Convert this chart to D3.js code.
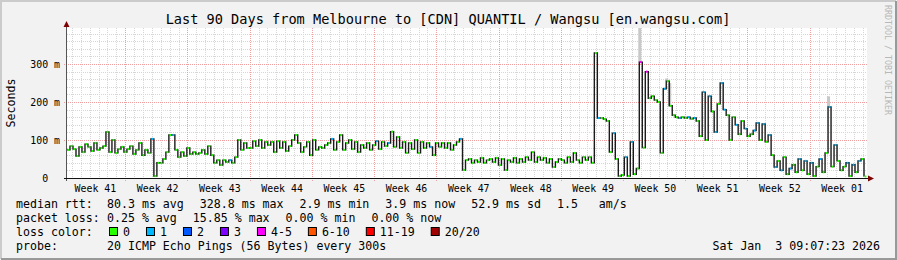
<!DOCTYPE html>
<html>
<head>
<meta charset="utf-8">
<script src="https://cdn.jsdelivr.net/npm/d3@7"></script>
<style>
body { margin: 0; background: #f2f2f2; }
text { font-family: "DejaVu Sans Mono", monospace; white-space: pre; fill: #000; }
</style>
</head>
<body>
<div id="chart"></div>
<script>
// median rtt in ms, one value per ~8h
var rtt = [
  74, 84, 76, 58, 82, 68, 89, 82, 71, 92, 74, 79, 84, 121, 68, 100, 66, 76, 82, 68,
  76, 84, 63, 74, 92, 60, 74, 66, 103, 5, 40, 40, 50, 68, 113, 113, 74, 55, 68, 58,
  79, 63, 68, 63, 66, 74, 63, 84, 60, 40, 47, 34, 47, 42, 47, 40, 55, 100, 74, 92,
  79, 79, 97, 84, 100, 79, 95, 87, 95, 68, 97, 79, 95, 71, 84, 100, 113, 92, 68, 82,
  95, 60, 100, 74, 82, 79, 87, 92, 103, 74, 95, 113, 74, 92, 100, 76, 95, 68, 87, 79,
  92, 74, 87, 97, 76, 95, 84, 92, 122, 82, 108, 79, 95, 66, 92, 76, 100, 66, 95, 79,
  92, 82, 60, 92, 82, 92, 79, 92, 74, 87, 95, 103, 21, 47, 50, 40, 47, 42, 53, 40,
  47, 50, 42, 53, 34, 50, 21, 47, 42, 53, 40, 50, 42, 55, 47, 68, 42, 55, 47, 53,
  40, 50, 29, 42, 50, 47, 40, 55, 42, 66, 47, 40, 55, 47, 55, 40, 329, 158, 158, 155,
  150, 68, 118, 50, 5, 8, 55, 5, 95, 10, 25, 305, 80, 280, 210, 215, 205, 200, 66, 235,
  255, 190, 165, 160, 158, 160, 158, 160, 156, 158, 150, 110, 226, 100, 215, 175, 121, 195, 250, 180,
  165, 100, 160, 140, 115, 150, 130, 110, 115, 125, 145, 100, 142, 95, 113, 60, 29, 45, 20, 55,
  10, 25, 35, 15, 50, 20, 45, 10, 40, 5, 30, 50, 15, 66, 187, 30, 87, 45, 20, 30,
  40, 5, 35, 15, 45, 50, 4
];

// samples that lost pings (index into rtt, lost pings out of 20)
var lossIdx = [28, 35, 54, 88, 103, 107, 121, 131, 177, 182, 186, 188, 191, 193, 199, 204, 207, 209, 212, 214,
  216, 218, 219, 223, 226, 229, 230, 232, 234, 236, 238, 241, 244, 246, 248, 251, 254, 256, 260, 262, 264];
var lossCnt = [1, 1, 1, 1, 1, 1, 1, 1, 1, 1, 1, 1, 4, 4, 1, 1, 1, 1, 1, 1,
  1, 1, 1, 1, 1, 1, 1, 1, 1, 1, 1, 1, 1, 1, 1, 1, 1, 1, 1, 1, 1];

// smoke (spread of the pings) where it shows
var smokeIdx = [191, 200, 201, 254];
var smokeTop = [420, 262, 250, 215];

var lossLabels = ["0", "1", "2", "3", "4-5", "6-10", "11-19", "20/20"];
var lossColors = ["#26ff00", "#00b8ff", "#0059ff", "#7e00ff", "#ff00ff", "#ff5500", "#ff0000", "#a00000"];
var lossBins = [0, 1, 2, 3, 5, 10, 19, 20];

var yTicks = [0, 100, 200, 300];
var statsRtt = ["80.3 ms avg", "328.8 ms max", "2.9 ms min", "3.9 ms now", "52.9 ms sd", "1.5   am/s"];
var statsLoss = ["0.25 % avg", "15.85 % max", "0.00 % min", "0.00 % now"];

var titleText = "Last 90 Days from Melbourne to [CDN] QUANTIL / Wangsu [en.wangsu.com]";
var probeText = "20 ICMP Echo Pings (56 Bytes) every 300s";
var dateText = "Sat Jan  3 09:07:23 2026";

var endTime = new Date(Date.UTC(2026, 0, 3, 10, 40, 0));
var startTime = d3.utcDay.offset(endTime, -90);

var W = 897, H = 260;
var pL = 67, pR = 867, pT = 28, pB = 178;

var svg = d3.select("#chart").append("svg").attr("width", W).attr("height", H);

// frame
svg.append("rect").attr("width", W).attr("height", H).attr("fill", "#f2f2f2");
svg.append("path").attr("d", "M1," + (H - 1) + "V1H" + (W - 1)).attr("stroke", "#cbcbcb").attr("stroke-width", 2).attr("fill", "none");
svg.append("path").attr("d", "M1," + (H - 1) + "H" + (W - 1) + "V1").attr("stroke", "#999").attr("stroke-width", 2).attr("fill", "none");

var x = d3.scaleUtc().domain([startTime, endTime]).range([pL, pR]);
var y = d3.scaleLinear().domain([0, (pB - pT) / 0.38]).range([pB, pT]);

svg.append("rect").attr("x", pL).attr("y", pT).attr("width", pR - pL).attr("height", pB - pT).attr("fill", "#fff");

svg.append("clipPath").attr("id", "plotclip").append("rect")
  .attr("x", pL).attr("y", pT).attr("width", pR - pL).attr("height", pB - pT);

// grid
var days = d3.utcDay.range(startTime, endTime);
var sundays = d3.utcSunday.range(startTime, endTime);
var minorY = d3.range(20, y.domain()[1], 20).filter(function(v) { return v % 100 != 0; });

var grid = svg.append("g");
grid.selectAll(".dayline").data(days).enter().append("line")
  .attr("x1", function(d) { return Math.round(x(d)) + 0.5; })
  .attr("x2", function(d) { return Math.round(x(d)) + 0.5; })
  .attr("y1", pT).attr("y2", pB)
  .attr("stroke", "#d6d6d6").attr("stroke-dasharray", "1,1");
grid.selectAll(".minory").data(minorY).enter().append("line")
  .attr("x1", pL).attr("x2", pR)
  .attr("y1", function(d) { return Math.round(y(d)) + 0.5; })
  .attr("y2", function(d) { return Math.round(y(d)) + 0.5; })
  .attr("stroke", "#d6d6d6").attr("stroke-dasharray", "1,1");
grid.selectAll(".weekline").data(sundays).enter().append("line")
  .attr("x1", function(d) { return Math.round(x(d)) + 0.5; })
  .attr("x2", function(d) { return Math.round(x(d)) + 0.5; })
  .attr("y1", pT).attr("y2", pB + 3)
  .attr("stroke", "#eea0a0").attr("stroke-dasharray", "1,1");
grid.selectAll(".majory").data(yTicks.slice(1)).enter().append("line")
  .attr("x1", pL - 3).attr("x2", pR)
  .attr("y1", function(d) { return Math.round(y(d)) + 0.5; })
  .attr("y2", function(d) { return Math.round(y(d)) + 0.5; })
  .attr("stroke", "#eea0a0").attr("stroke-dasharray", "1,1");

// data
var span = endTime - startTime;
var stepMs = span / rtt.length;
var pts = rtt.map(function(v, i) {
  return { t: new Date(+startTime + i * stepMs), v: v, loss: 0 };
});
lossIdx.forEach(function(k, j) { pts[k].loss = lossCnt[j]; });

function lossColor(n) {
  for (var b = 0; b < lossBins.length; b++) if (n <= lossBins[b]) return lossColors[b];
  return lossColors[lossColors.length - 1];
}

var plot = svg.append("g").attr("clip-path", "url(#plotclip)");

plot.selectAll(".smoke").data(smokeIdx).enter().append("rect")
  .attr("x", function(k) { return x(pts[k].t) - 1; })
  .attr("width", 3)
  .attr("y", function(k, j) { return y(smokeTop[j]); })
  .attr("height", function(k, j) { return y(pts[k].v) - y(smokeTop[j]); })
  .attr("fill", "#c8c8c8");

var line = d3.line().curve(d3.curveStepAfter)
  .x(function(d) { return x(d.t); })
  .y(function(d) { return y(d.v); });
plot.append("path").datum(pts).attr("d", line)
  .attr("fill", "none").attr("stroke", "#1b1b1b").attr("stroke-width", 1.4);

// median segments coloured by loss
plot.selectAll(".med").data(pts).enter().append("rect")
  .attr("x", function(d) { return x(d.t) + 0.6; })
  .attr("y", function(d) { return y(d.v) - 1; })
  .attr("width", function(d) { return x(new Date(+d.t + stepMs)) - x(d.t) - 1.2; })
  .attr("height", 2)
  .attr("fill", function(d) { return lossColor(d.loss); });

// axes
svg.append("line").attr("x1", pL - 0.5).attr("x2", pL - 0.5).attr("y1", pB + 3).attr("y2", pT - 1)
  .attr("stroke", "#555");
svg.append("line").attr("x1", pL - 3).attr("x2", pR + 1).attr("y1", pB + 0.5).attr("y2", pB + 0.5)
  .attr("stroke", "#111");
svg.append("path").attr("d", "M" + (pL - 3.5) + "," + (pT - 1) + "L" + (pL - 0.5) + "," + (pT - 7) + "L" + (pL + 2.5) + "," + (pT - 1) + "Z")
  .attr("fill", "#7f0000");
svg.append("path").attr("d", "M" + (pR + 1) + "," + (pB - 2.5) + "L" + (pR + 7) + "," + (pB + 0.5) + "L" + (pR + 1) + "," + (pB + 3.5) + "Z")
  .attr("fill", "#7f0000");

var yAxis = svg.append("g").attr("transform", "translate(" + pL + ",0)")
  .call(d3.axisLeft(y).tickValues(yTicks).tickSize(0).tickPadding(7)
    .tickFormat(function(d) { return d == 0 ? "0  " : d + " m"; }));
yAxis.select(".domain").remove();
yAxis.selectAll("text").attr("font-family", "DejaVu Sans Mono").attr("font-size", "9.9px").attr("dy", "0.35em");

var weekMid = sundays.slice();
weekMid.unshift(d3.utcSunday.floor(startTime));
weekMid = weekMid.map(function(d) { return d3.utcHour.offset(d, 86); })
  .filter(function(d) { return x(d) > pL && x(d) < pR; });
var xAxis = svg.append("g").attr("transform", "translate(0," + pB + ")")
  .call(d3.axisBottom(x).tickValues(weekMid).tickSize(0).tickPadding(6.5)
    .tickFormat(function(d) { return "Week " + d3.utcFormat("%V")(d); }));
xAxis.select(".domain").remove();
xAxis.selectAll("text").attr("font-family", "DejaVu Sans Mono").attr("font-size", "9.9px");

// titles
svg.append("text").attr("x", 448).attr("y", 24).attr("text-anchor", "middle")
  .style("font-size", "13.6px").text(titleText);
svg.append("text").attr("transform", "translate(15,103) rotate(-90)").attr("text-anchor", "middle")
  .style("font-size", "11.6px").text("Seconds");
svg.append("text").attr("transform", "translate(885,5) rotate(90)")
  .style("font-size", "8.3px").style("fill", "#b8b8b8").text("RRDTOOL / TOBI OETIKER");

// legend
var rowY = [208, 222, 236, 250];
function legendRow(label, items, ry) {
  svg.append("text").attr("x", 16).attr("y", ry).style("font-size", "11.6px").text(label);
  var cx = 107;
  items.forEach(function(s) {
    var t = svg.append("text").attr("x", cx).attr("y", ry).style("font-size", "11.6px").text(s);
    cx += t.node().getComputedTextLength() + 16;
  });
}
legendRow("median rtt:", statsRtt, rowY[0]);
legendRow("packet loss:", statsLoss, rowY[1]);

svg.append("text").attr("x", 16).attr("y", rowY[2]).style("font-size", "11.6px").text("loss color:");
var bx = 109;
lossLabels.forEach(function(s, j) {
  svg.append("rect").attr("x", bx + 0.5).attr("y", rowY[2] - 8.5).attr("width", 8).attr("height", 8)
    .attr("fill", lossColors[j]).attr("stroke", "#000");
  var t = svg.append("text").attr("x", bx + 14).attr("y", rowY[2]).style("font-size", "11.6px").text(s);
  bx += 14 + t.node().getComputedTextLength() + 16;
});

svg.append("text").attr("x", 16).attr("y", rowY[3]).style("font-size", "11.6px").text("probe:");
svg.append("text").attr("x", 107).attr("y", rowY[3]).style("font-size", "11.6px").text(probeText);
svg.append("text").attr("x", 880).attr("y", rowY[3]).attr("text-anchor", "end").style("font-size", "11.6px").text(dateText);
</script>
</body>
</html>
